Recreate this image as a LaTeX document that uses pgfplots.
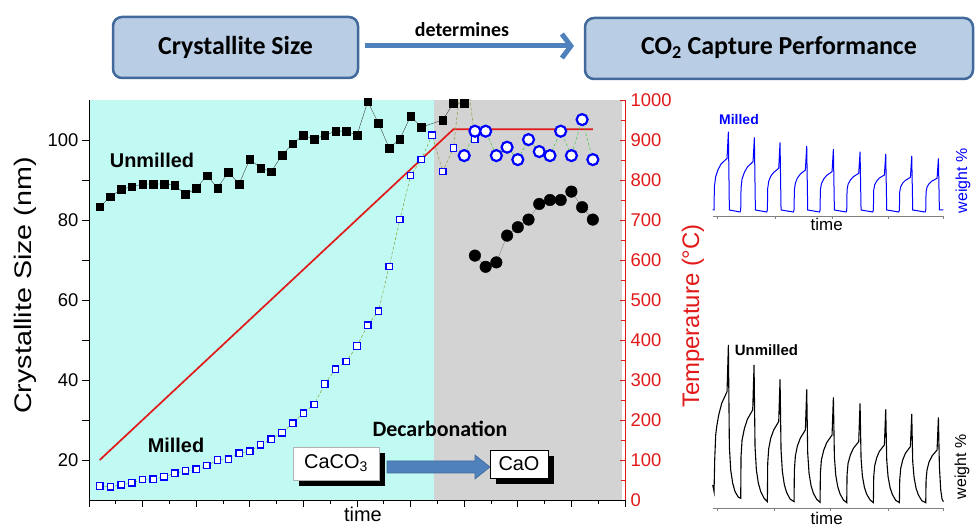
\documentclass[border=0pt]{standalone}
\usepackage{fontspec}
\setmainfont{Liberation Sans}
\newfontfamily\calb{Carlito}
\usepackage{graphicx}
\usepackage{pgfplots}
\pgfplotsset{compat=1.18}
\usetikzlibrary{arrows.meta}
\definecolor{cyanbg}{RGB}{192,250,242}
\definecolor{graybg}{RGB}{211,211,211}
\definecolor{tred}{RGB}{225,25,25}
\definecolor{boxfill}{RGB}{185,205,229}
\definecolor{boxedge}{RGB}{65,105,155}
\definecolor{arrowblue}{RGB}{79,129,189}
\definecolor{olive1}{RGB}{140,160,60}
\definecolor{green1}{RGB}{60,200,60}
\newcommand\fs[1]{\fontsize{#1}{#1}\selectfont}
\begin{document}
\begin{tikzpicture}
\path[use as bounding box] (0bp,0bp) rectangle (976bp,527bp);
% ---------- temperature axis (background + red line)
\begin{axis}[at={(89bp,27bp)}, anchor=south west, scale only axis,
  width=536bp, height=400bp,
  xmin=0, xmax=50, ymin=0, ymax=1000,
  axis x line=none, axis y line*=right,
  axis line style={tred, line width=1bp},
  ytick={0,100,...,1000}, minor ytick={50,150,...,950},
  tick align=inside, major tick length=5bp, minor tick length=4bp,
  y tick style={tred, line width=0.8bp},
  yticklabel style={text=tred, font=\fs{18.5}, xshift=2bp},
  /pgf/number format/assume math mode=true,
  /pgf/number format/1000 sep={},
  axis on top]
\fill[cyanbg] (axis cs:0,0) rectangle (axis cs:32.2,1000);
\fill[graybg] (axis cs:32.2,0) rectangle (axis cs:49.7,1000);
\addplot[tred, line width=1.7bp, no marks] coordinates {(1,100) (34,927) (47,927)};
\end{axis}
% ---------- crystallite size axis
\begin{axis}[at={(89bp,27bp)}, anchor=south west, scale only axis,
  width=536bp, height=400bp,
  xmin=0, xmax=50, ymin=10, ymax=110,
  axis x line*=bottom, axis y line*=left,
  axis line style={black, line width=0.8bp},
  xtick={0,5,...,50}, minor xtick={2.5,7.5,...,47.5}, xticklabels={},
  ytick={20,30,...,100}, yticklabels={20,,40,,60,,80,,100},
  tick align=outside, major tick length=7bp, minor tick length=4bp,
  tick style={black, line width=0.8bp},
  yticklabel style={font=\fs{18.5}},
  /pgf/number format/assume math mode=true]
% unmilled, black squares
\addplot[color=darkgray, line width=0.4bp, mark=square*, mark size=3.8bp, mark options={black, solid}]
 coordinates {(1,83.3)(2,85.8)(3,87.7)(4,88.3)(5,89)(6,89)(7,89)(8,88.7)(9,86.4)(10,87.9)
 (11,91.1)(12,88)(13,92)(14,89)(15,95.2)(16,93)(17,92.1)(18,96.2)(19,99.1)(20,101.2)
 (21,100.2)(22,101.2)(23,102.2)(24,102.2)(25,101.2)(26,109.6)(27,104.2)(28,98)(29,100.2)(30,106)
 (31,103.2)(33,105)(34,109.2)(35,109.2)};
% milled, blue squares: line
\addplot[olive1, densely dashed, line width=0.5bp, no marks]
 coordinates {(1,13.5)(2,13.3)(3,13.8)(4,14.3)(5,15.1)(6,15.2)(7,15.8)(8,16.7)(9,17.3)(10,17.7)
 (11,18.6)(12,20)(13,20.2)(14,21.7)(15,22.2)(16,23.8)(17,25.2)(18,26.8)(19,29.2)(20,31.7)
 (21,33.9)(22,39)(23,42.7)(24,44.6)(25,48.5)(26,53.7)(27,57.2)(28,68.4)(29,80.1)(30,91.1)
 (31,95.1)(32,101.2)(33,92.1)(34,98)(35,122)(36,100.1)};
% milled, blue squares: marks
\addplot[only marks, mark=square*, mark size=3.2bp, mark options={draw=blue, fill=white, line width=1.3bp}]
 coordinates {(1,13.5)(2,13.3)(3,13.8)(4,14.3)(5,15.1)(6,15.2)(7,15.8)(8,16.7)(9,17.3)(10,17.7)
 (11,18.6)(12,20)(13,20.2)(14,21.7)(15,22.2)(16,23.8)(17,25.2)(18,26.8)(19,29.2)(20,31.7)
 (21,33.9)(22,39)(23,42.7)(24,44.6)(25,48.5)(26,53.7)(27,57.2)(28,68.4)(29,80.1)(30,91.1)
 (31,95.1)(32,101.2)(33,92.1)(34,98)(36,100.1)};
% unmilled after decarbonation, black circles
\addplot[color=gray, line width=0.4bp, mark=*, mark size=5.8bp, mark options={black, solid}]
 coordinates {(36,71.1)(37,68.3)(38,69.4)(39,76.1)(40,78.2)(41,80.1)(42,84)(43,85)(44,85)(45,87.1)(46,83.2)(47,80.1)};
% milled after decarbonation, blue circles
\addplot[green1, densely dashed, line width=0.5bp, mark=*, mark size=5.5bp, mark options={solid, draw=blue, fill=white, line width=2.2bp}]
 coordinates {(35,96.1)(36,102.2)(37,102.2)(38,96.1)(39,98.2)(40,95.1)(41,100.1)(42,97.1)(43,96.1)(44,102.2)(45,96.1)(46,105.1)(47,95.1)};
\end{axis}
% ---------- inset: milled
\begin{axis}[at={(712.7bp,311bp)}, anchor=south west, scale only axis,
  width=230.7bp, height=89.3bp,
  xmin=68, xmax=760, ymin=-378, ymax=-110,
  axis x line*=bottom, axis y line=none,
  axis line style={gray, line width=0.8bp},
  xtick={80,255,425,593,760}, xticklabels={},
  tick align=outside, major tick length=3bp, tick style={gray},
  clip=false]
\addplot[blue, line width=1bp, no marks] coordinates {
(68,-360)(72,-360)(73,-290)(77,-260)(84,-239)(93,-222)(111,-205)(115,-125)(118,-360)
(150,-366)(152,-360)(153,-295)(156,-267)(163,-247)(172,-231)(189,-215)(193,-142)(196,-360)
(230,-366)(232,-360)(233,-295)(236,-274)(242,-259)(251,-247)(266,-235)(270,-157)(273,-360)
(310,-366)(312,-360)(313,-300)(316,-279)(322,-264)(331,-252)(346,-240)(350,-168)(353,-360)
(388,-366)(390,-360)(391,-300)(394,-281)(401,-267)(410,-256)(426,-245)(430,-177)(433,-360)
(468,-366)(470,-360)(471,-300)(474,-283)(481,-270)(490,-260)(506,-250)(510,-185)(513,-360)
(548,-366)(550,-360)(551,-300)(554,-284)(560,-273)(568,-264)(583,-255)(587,-192)(590,-360)
(626,-366)(628,-360)(629,-305)(632,-290)(638,-279)(646,-271)(661,-262)(665,-198)(668,-360)
(705,-366)(707,-360)(708,-305)(711,-291)(717,-281)(726,-273)(741,-265)(745,-205)(748,-360)(760,-360)};
\end{axis}
% ---------- inset: unmilled
\begin{axis}[at={(712.7bp,18.7bp)}, anchor=south west, scale only axis,
  width=230.7bp, height=171.7bp,
  xmin=68, xmax=760, ymin=-565, ymax=-50,
  axis x line*=bottom, axis y line=none,
  axis line style={gray, line width=0.8bp},
  xtick={80,253,420,593,760}, xticklabels={},
  tick align=outside, major tick length=3bp, tick style={gray},
  clip=false]
\addplot[black, line width=1.1bp, no marks] coordinates {
(68,-495)(70,-505)(72,-515)(74,-420)(77,-345)(80,-320)(86,-285)(95,-250)(111,-215)(115,-75)(118,-380)(122,-450)(128,-490)(135,-515)(145,-532)(152,-535)
(153,-410)(156,-361)(163,-326)(172,-298)(188,-270)(192,-135)(195,-380)(199,-450)(205,-490)(212,-515)(222,-535)(232,-545)
(233,-430)(236,-386)(242,-355)(251,-330)(266,-305)(270,-178)(273,-390)(277,-455)(283,-495)(290,-518)(300,-537)(312,-545)
(313,-450)(316,-408)(322,-378)(331,-354)(346,-330)(350,-208)(353,-400)(357,-460)(363,-497)(370,-520)(380,-538)(390,-547)
(391,-460)(394,-420)(401,-391)(410,-368)(426,-345)(430,-232)(433,-410)(437,-465)(443,-500)(450,-522)(460,-540)(470,-548)
(471,-465)(474,-430)(481,-405)(490,-385)(506,-365)(510,-250)(513,-415)(517,-468)(523,-502)(530,-523)(540,-540)(550,-548)
(551,-470)(554,-437)(560,-413)(568,-394)(583,-375)(587,-268)(590,-420)(594,-470)(600,-503)(607,-524)(617,-541)(628,-548)
(629,-480)(632,-445)(638,-420)(646,-400)(661,-380)(665,-282)(668,-425)(672,-472)(678,-505)(685,-525)(695,-542)(707,-548)
(708,-480)(711,-449)(717,-426)(726,-408)(741,-390)(745,-292)(748,-440)(752,-510)(756,-538)(760,-545)};
\end{axis}
% ---------- top banner
\draw[boxedge, line width=2.5bp, fill=boxfill, rounded corners=9bp] (113bp,449bp) rectangle (358bp,510bp);
\node[font=\calb\bfseries\fs{26}] at (235.5bp,479.5bp) {Crystallite Size};
\draw[boxedge, line width=2.5bp, fill=boxfill, rounded corners=9bp] (585bp,448bp) rectangle (973bp,509bp);
\node[font=\calb\bfseries\fs{26}] at (779bp,479bp) {CO\textsubscript{2} Capture Performance};
\draw[arrowblue, line width=5bp, -{Straight Barb[length=9bp,width=24bp,line width=5bp]}] (365bp,481bp) -- (574bp,481bp);
\node[font=\calb\bfseries\fs{20}] at (462bp,497bp) {determines};
% ---------- main chart labels
\node[font=\bfseries\fs{20}] at (152bp,366.5bp) {Unmilled};
\node[font=\bfseries\fs{20}] at (176bp,82bp) {Milled};
\node[font=\calb\bfseries\fs{22}] at (440bp,98bp) {Decarbonation};
\fill[black] (299bp,41bp) rectangle (385bp,74bp);
\draw[gray!60, fill=white, line width=0.6bp] (293bp,47bp) rectangle (379bp,80bp);
\node[font=\fs{20}] at (336bp,63.5bp) {CaCO\textsubscript{3}};
\draw[fill=arrowblue, draw=boxedge, line width=0.6bp] (387bp,54bp) -- (475bp,54bp) -- (475bp,48bp) -- (490bp,60bp) -- (475bp,72bp) -- (475bp,66bp) -- (387bp,66bp) -- cycle;
\fill[black] (496bp,43bp) rectangle (554bp,71bp);
\draw[black, fill=white, line width=0.6bp] (490bp,49bp) rectangle (548bp,77bp);
\node[font=\fs{20}] at (519bp,63bp) {CaO};
\node[font=\fs{20}] at (363bp,13bp) {time};
\node[rotate=90, font=\fs{24}] at (25bp,241.5bp) {\scalebox{1.2}[1]{Crystallite Size (nm)}};
\node[rotate=90, font=\fs{24}, text=tred] at (693bp,211bp) {Temperature (°C)};
% ---------- inset labels
\node[font=\bfseries\fs{14}, text=blue] at (739bp,407bp) {Milled};
\node[rotate=90, font=\fs{16}, text=blue] at (963bp,346bp) {weight \%};
\node[font=\fs{17}] at (826.7bp,303bp) {time};
\node[font=\bfseries\fs{15}] at (766.5bp,176.5bp) {Unmilled};
\node[rotate=90, font=\fs{16}] at (962bp,60bp) {weight \%};
\node[font=\fs{17}] at (826.7bp,8.7bp) {time};
\end{tikzpicture}
\end{document}
